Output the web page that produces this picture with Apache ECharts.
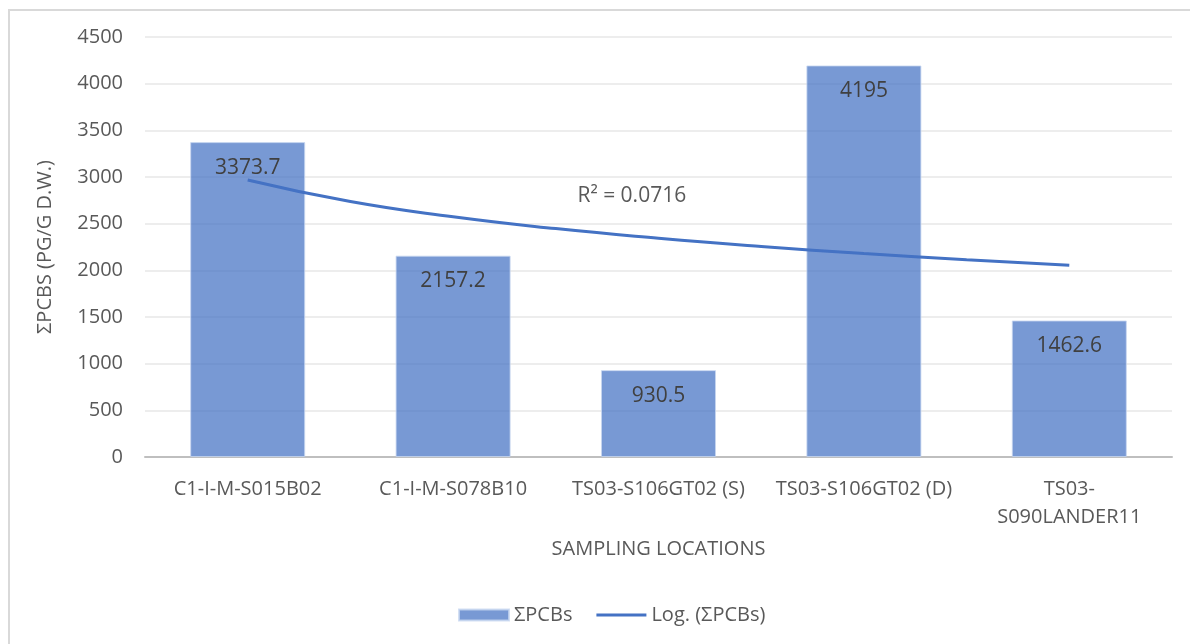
<!DOCTYPE html>
<html>
<head>
<meta charset="utf-8">
<script src="https://cdn.jsdelivr.net/npm/echarts@6/dist/echarts.min.js"></script>
<style>
html,body{margin:0;padding:0;background:#fff;}
#frame{position:absolute;left:8px;top:9px;width:1200px;height:660px;border:2px solid #d9d9d9;box-sizing:border-box;}
#chart{position:absolute;left:0;top:0;width:1190px;height:644px;}
</style>
</head>
<body>
<div id="frame"></div>
<div id="chart"></div>
<script>
// ---- data ----
const categories = ['C1-I-M-S015B02', 'C1-I-M-S078B10', 'TS03-S106GT02 (S)', 'TS03-S106GT02 (D)', 'TS03-S090LANDER11'];
const pcbValues = [3373.7, 2157.2, 930.5, 4195, 1462.6];
// logarithmic trendline at positions 1, 1.5, ... 5 (category numbers)
const trendX = [1, 1.5, 2, 2.5, 3, 3.5, 4, 4.5, 5];
const trendY = [2968, 2737, 2574, 2447, 2344, 2256, 2180, 2113, 2054];
const yTicks = [0, 500, 1000, 1500, 2000, 2500, 3000, 3500, 4000, 4500];
const rSquaredText = 'R² = 0.0716';
const rSquaredPos = [2.87, 2800];

const FONT = '"Open Sans", "Noto Sans", sans-serif';
const FS = 20;
const chart = echarts.init(document.getElementById('chart'));
chart.setOption({
  animation: false,
  textStyle: { fontFamily: FONT },
  grid: { left: 145, right: 18, top: 37, bottom: 187 },
  legend: {
    bottom: 14,
    left: 453,
    itemGap: 24,
    itemWidth: 50,
    itemHeight: 11,
    textStyle: { fontSize: FS, color: '#595959', fontFamily: FONT },
    data: [
      { name: 'ΣPCBs', icon: 'rect' },
      { name: 'Log. (ΣPCBs)', icon: 'path://M0,0 M0,11 M0,4 L50,4 L50,7 L0,7 Z' }
    ]
  },
  xAxis: [
    {
      type: 'category',
      data: categories,
      name: 'SAMPLING LOCATIONS',
      nameLocation: 'middle',
      nameGap: 82,
      nameTextStyle: { fontSize: FS, color: '#595959' },
      axisLine: { lineStyle: { color: '#bfbfbf', width: 2 } },
      axisTick: { show: false },
      axisLabel: {
        interval: 0,
        fontSize: FS, color: '#595959', margin: 18, lineHeight: 28,
        formatter: v => (v.indexOf(' ') < 0 && v.indexOf('TS03-') === 0) ? v.replace('TS03-', 'TS03-\n') : v
      }
    },
    {
      type: 'value', min: 0.5, max: 5.5, show: false
    }
  ],
  yAxis: {
    type: 'value',
    min: yTicks[0],
    max: yTicks[yTicks.length - 1],
    interval: 500,
    name: 'ΣPCBS (PG/G D.W.)',
    nameLocation: 'middle',
    nameGap: 90,
    nameTextStyle: { fontSize: FS, color: '#595959' },
    axisLine: { show: false },
    axisTick: { show: false },
    axisLabel: { fontSize: FS, color: '#595959', margin: 22, formatter: v => String(v) },
    splitLine: { lineStyle: { color: '#ededed', width: 2 } }
  },
  series: [
    {
      name: 'ΣPCBs',
      type: 'bar',
      data: pcbValues,
      barWidth: '56%',
      itemStyle: { color: 'rgba(68,114,196,0.72)', borderColor: 'rgba(200,215,240,0.8)', borderWidth: 1 },
      label: {
        show: true, position: 'insideTop', distance: 15,
        fontSize: 21, color: '#404040', fontFamily: FONT
      },
      z: 2
    },
    {
      name: 'Log. (ΣPCBs)',
      type: 'line',
      xAxisIndex: 1,
      data: trendX.map((x, i) => [x, trendY[i]]),
      smooth: true,
      symbol: 'none',
      lineStyle: { color: '#4472C4', width: 3 },
      itemStyle: { color: '#4472C4' },
      z: 3,
      markPoint: {
        symbol: 'rect', symbolSize: 1,
        itemStyle: { color: 'rgba(0,0,0,0)' },
        label: { show: true, formatter: rSquaredText, fontSize: 21, color: '#595959', position: 'inside' },
        data: [{ coord: rSquaredPos }]
      }
    }
  ]
});
</script>
</body>
</html>
